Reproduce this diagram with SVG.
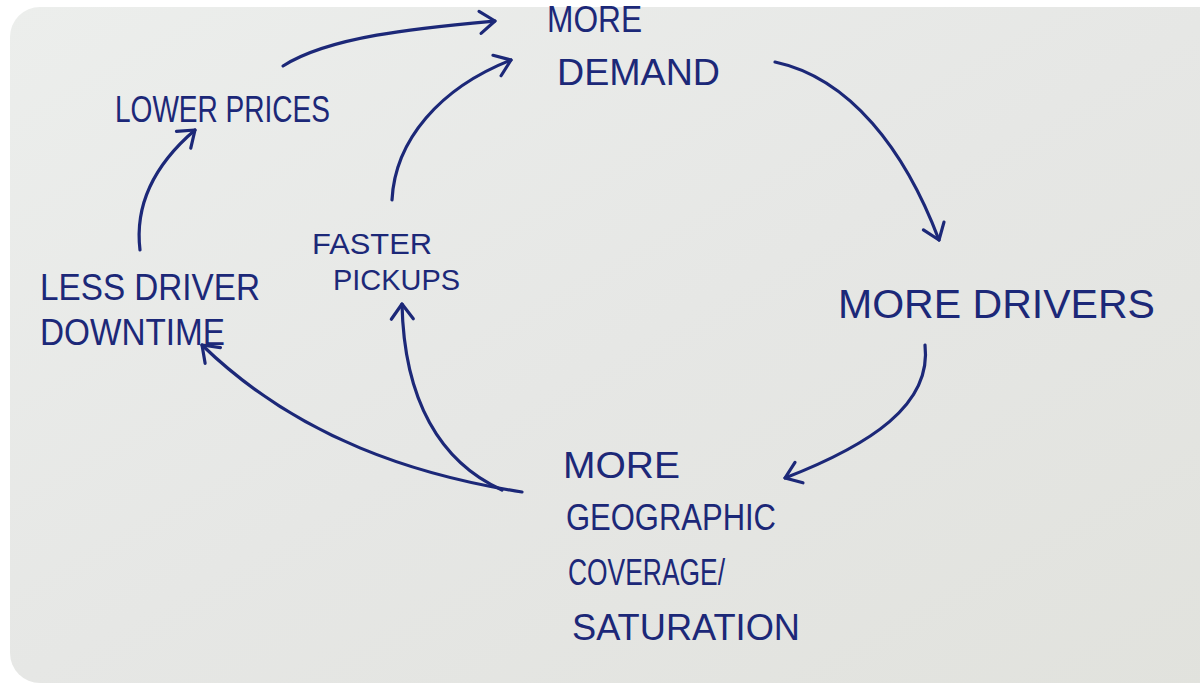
<svg xmlns="http://www.w3.org/2000/svg" width="1200" height="683" viewBox="0 0 1200 683">
  <defs>
    <linearGradient id="paper" x1="0" y1="0" x2="1" y2="1">
      <stop offset="0" stop-color="#eceeec"/>
      <stop offset="0.5" stop-color="#e6e7e5"/>
      <stop offset="1" stop-color="#e1e2dd"/>
    </linearGradient>
    <marker id="arrow" markerUnits="userSpaceOnUse" markerWidth="30" markerHeight="30" refX="0" refY="0" viewBox="-18 -15 22 30" orient="auto">
      <path d="M-15,-11 L0,0 L-15,11" fill="none" stroke="#1c2878" stroke-width="3.2" stroke-linecap="round" stroke-linejoin="round"/>
    </marker>
  </defs>
  <style>
    .t { font-family: "Liberation Sans", "DejaVu Sans", sans-serif; fill: #1c2878; font-size: 36px; }
    .s { font-size: 30px; }
    .c { fill: none; stroke: #1c2878; stroke-width: 3.2; stroke-linecap: round; marker-end: url(#arrow); }
  </style>
  <rect x="0" y="0" width="1200" height="683" fill="#ffffff"/>
  <rect x="10" y="7" width="1220" height="676" rx="30" fill="url(#paper)"/>

  <g id="connectors">
    <path class="c" d="M283,66 C330,36 420,28 495,21"/>
    <path class="c" d="M392,200 C395,140 440,88 511,60"/>
    <path class="c" d="M775,62 C850,78 905,150 939,240"/>
    <path class="c" d="M925,345 C932,405 870,445 785,478"/>
    <path class="c" d="M522,492 C420,476 300,440 202,345"/>
    <path class="c" d="M502,490 C440,462 404,400 402,304"/>
    <path class="c" d="M140,250 C134,200 160,160 195,130"/>
  </g>

  <g id="more-demand">
    <text class="t" x="547" y="32" textLength="95" lengthAdjust="spacingAndGlyphs">MORE</text>
    <text class="t" x="557" y="85" textLength="163" lengthAdjust="spacingAndGlyphs">DEMAND</text>
  </g>
  <g id="lower-prices">
    <text class="t" x="115" y="122" textLength="215" lengthAdjust="spacingAndGlyphs">LOWER PRICES</text>
  </g>
  <g id="faster-pickups">
    <text class="t s" x="312" y="254" textLength="120" lengthAdjust="spacingAndGlyphs">FASTER</text>
    <text class="t s" x="333" y="290" textLength="127" lengthAdjust="spacingAndGlyphs">PICKUPS</text>
  </g>
  <g id="less-driver-downtime">
    <text class="t" x="40" y="300" textLength="220" lengthAdjust="spacingAndGlyphs">LESS DRIVER</text>
    <text class="t" x="40" y="345" textLength="185" lengthAdjust="spacingAndGlyphs">DOWNTIME</text>
  </g>
  <g id="more-drivers">
    <text class="t" x="838" y="318" textLength="317" lengthAdjust="spacingAndGlyphs" style="font-size:40px">MORE DRIVERS</text>
  </g>
  <g id="more-geographic-coverage">
    <text class="t" x="563" y="478" textLength="117" lengthAdjust="spacingAndGlyphs">MORE</text>
    <text class="t" x="566" y="530" textLength="210" lengthAdjust="spacingAndGlyphs">GEOGRAPHIC</text>
    <text class="t" x="568" y="585" textLength="157" lengthAdjust="spacingAndGlyphs">COVERAGE/</text>
    <text class="t" x="572" y="640" textLength="228" lengthAdjust="spacingAndGlyphs">SATURATION</text>
  </g>
</svg>
